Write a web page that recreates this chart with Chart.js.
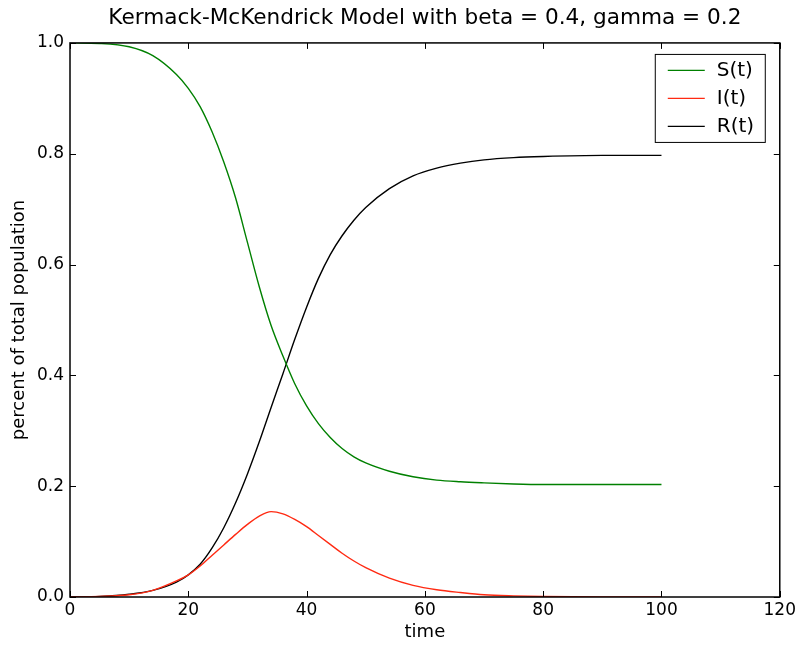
<!DOCTYPE html>
<html>
<head>
<meta charset="utf-8">
<script src="https://cdn.jsdelivr.net/npm/chart.js@4/dist/chart.umd.min.js"></script>
<style>
  html, body { margin: 0; padding: 0; background: #fff; }
  #wrap { width: 799px; height: 646px; }
</style>
</head>
<body>
<div id="wrap"><canvas id="sir"></canvas></div>
<script>
// values
const times = [0, 5, 10, 14, 18, 20, 22, 24, 26, 28, 30, 32, 34, 36, 38, 40, 42, 44, 46, 48, 50, 54, 58, 62, 66, 70, 75, 80, 90, 100];
const susceptible = [1.0, 0.999, 0.993, 0.977, 0.943, 0.918, 0.885, 0.84, 0.785, 0.72, 0.64, 0.56, 0.49, 0.435, 0.385, 0.345, 0.313, 0.288, 0.268, 0.253, 0.242, 0.227, 0.217, 0.211, 0.208, 0.206, 0.204, 0.203, 0.203, 0.203];
const infected = [0.0, 0.001, 0.004, 0.012, 0.029, 0.04, 0.056, 0.075, 0.094, 0.113, 0.131, 0.146, 0.154, 0.15, 0.14, 0.127, 0.111, 0.095, 0.079, 0.065, 0.053, 0.034, 0.021, 0.013, 0.008, 0.004, 0.002, 0.001, 0.0, 0.0];
const recovered = [0.0, 0.001, 0.005, 0.012, 0.027, 0.04, 0.059, 0.088, 0.125, 0.17, 0.222, 0.28, 0.342, 0.403, 0.465, 0.523, 0.575, 0.618, 0.652, 0.68, 0.703, 0.737, 0.76, 0.774, 0.783, 0.789, 0.793, 0.795, 0.797, 0.797];
const seriesNames = ["S(t)", "I(t)", "R(t)"];
const xTicks = [0, 20, 40, 60, 80, 100, 120];
const yTicks = [0.0, 0.2, 0.4, 0.6, 0.8, 1.0];

const FONT = "'DejaVu Sans', sans-serif";

function points(vals) {
  return times.map((t, i) => ({ x: t, y: vals[i] }));
}

// frame + inward ticks on all four sides, matplotlib style
const frameTicks = {
  id: "frameTicks",
  afterDatasetsDraw(chart) {
    const { ctx, chartArea: a, scales } = chart;
    ctx.save();
    ctx.strokeStyle = "#000";
    ctx.lineWidth = 1;
    ctx.beginPath();
    xTicks.forEach((v) => {
      let px = Math.round(scales.x.getPixelForValue(v)) + 0.5;
      ctx.moveTo(px, a.bottom); ctx.lineTo(px, a.bottom - 6);
      ctx.moveTo(px, a.top); ctx.lineTo(px, a.top + 6);
    });
    yTicks.forEach((v) => {
      let py = Math.round(scales.y.getPixelForValue(v)) + 0.5;
      ctx.moveTo(a.left, py); ctx.lineTo(a.left + 6, py);
      ctx.moveTo(a.right, py); ctx.lineTo(a.right - 6, py);
    });
    ctx.stroke();
    ctx.lineWidth = 1.5;
    ctx.strokeRect(a.left, a.top, a.right - a.left, a.bottom - a.top);
    ctx.restore();
  },
};

// legend box in the upper right corner of the axes
const boxLegend = {
  id: "boxLegend",
  afterDraw(chart) {
    const { ctx, chartArea: a } = chart;
    const bx = a.right - 125, by = a.top + 11, bw = 110, bh = 88;
    ctx.save();
    ctx.fillStyle = "#fff";
    ctx.fillRect(bx, by, bw, bh);
    ctx.strokeStyle = "#000";
    ctx.lineWidth = 1;
    ctx.strokeRect(bx + 0.5, by + 0.5, bw, bh);
    ctx.font = "20px " + FONT;
    ctx.textBaseline = "middle";
    chart.data.datasets.forEach((ds, i) => {
      const y = by + 16 + i * 28;
      ctx.strokeStyle = ds.borderColor;
      ctx.lineWidth = 1.3;
      ctx.beginPath();
      ctx.moveTo(bx + 13, y + 0.5);
      ctx.lineTo(bx + 50, y + 0.5);
      ctx.stroke();
      ctx.fillStyle = "#000";
      ctx.fillText(ds.label, bx + 62, y + 1);
    });
    ctx.restore();
  },
};

new Chart(document.getElementById("sir"), {
  type: "line",
  data: {
    datasets: [
      { label: seriesNames[0], data: points(susceptible), borderColor: "#008000" },
      { label: seriesNames[1], data: points(infected), borderColor: "#ff2a12" },
      { label: seriesNames[2], data: points(recovered), borderColor: "#000000" },
    ],
  },
  options: {
    responsive: true,
    maintainAspectRatio: false,
    animation: false,
    layout: { padding: { right: 17 } },
    elements: {
      point: { radius: 0 },
      line: { borderWidth: 1.4, cubicInterpolationMode: "monotone", fill: false },
    },
    plugins: {
      legend: { display: false },
      tooltip: { enabled: false },
      title: {
        display: true,
        fullSize: false,
        text: "Kermack-McKendrick Model with beta = 0.4, gamma = 0.2",
        color: "#000",
        font: { family: FONT, size: 21.6, weight: "normal" },
        padding: { top: 5, bottom: 12 },
      },
    },
    scales: {
      x: {
        type: "linear",
        min: 0,
        max: 120,
        afterBuildTicks: (s) => { s.ticks = xTicks.map((v) => ({ value: v })); },
        afterFit: (s) => { s.height = 49; },
        grid: { display: false, drawTicks: false },
        border: { display: false },
        ticks: { color: "#000", padding: 3, font: { family: FONT, size: 17 } },
        title: { display: true, text: "time", color: "#000", font: { family: FONT, size: 18 }, padding: { top: 0, bottom: 3 } },
      },
      y: {
        min: 0,
        max: 1.0,
        afterBuildTicks: (s) => { s.ticks = yTicks.map((v) => ({ value: v })); },
        afterFit: (s) => { s.width = 70; },
        grid: { display: false, drawTicks: false },
        border: { display: false },
        ticks: { color: "#000", padding: 6, font: { family: FONT, size: 17 }, callback: (v) => Number(v).toFixed(1) },
        title: { display: true, text: "percent of total population", color: "#000", font: { family: FONT, size: 18 }, padding: { top: 9, bottom: 0 } },
      },
    },
  },
  plugins: [frameTicks, boxLegend],
});
</script>
</body>
</html>
